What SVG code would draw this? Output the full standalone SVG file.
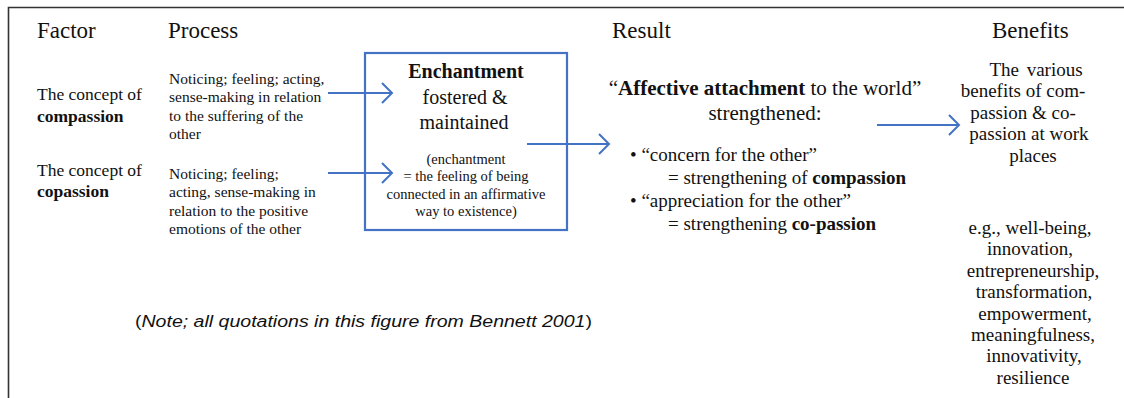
<svg xmlns="http://www.w3.org/2000/svg" width="1124" height="398" viewBox="0 0 1124 398">
<style>
.t text{font-family:"Liberation Serif","Times New Roman",serif;fill:#111}
.h{font-size:23px}
.f{font-size:17.5px}
.p{font-size:15.5px}
.b{font-weight:bold}
.c{text-anchor:middle}
.big{font-size:20px}
.sm{font-size:14.5px}
.r{font-size:21px}
.bl{font-size:19px}
.t text.note{font-family:"Liberation Sans",Arial,sans-serif;font-size:17px}
.conn{stroke:#4472C4;stroke-width:2;fill:none}
</style>
<defs>
<marker id="ah" markerUnits="userSpaceOnUse" markerWidth="14" markerHeight="24" viewBox="0 0 14 24" refX="12" refY="12" orient="auto">
<path d="M2,2 L12,12 L2,22" fill="none" stroke="#4472C4" stroke-width="2"/>
</marker>
</defs>
<rect width="1124" height="398" fill="#fff"/>
<g id="frame" stroke="#333" stroke-width="1.6" fill="none">
<path d="M8.5,398 V7.5 H1124"/>
</g>
<g class="t" font-family="Liberation Serif, Times New Roman, serif">
<g id="headers" class="h">
<text x="37" y="37.5">Factor</text>
<text x="168" y="37.5">Process</text>
<text x="612" y="37.5">Result</text>
<text x="992" y="37.5">Benefits</text>
</g>
<g id="factor1" class="f">
<text x="37" y="99.5">The concept of</text>
<text x="37" y="121.5" class="b">compassion</text>
</g>
<g id="factor2" class="f">
<text x="37" y="175.5">The concept of</text>
<text x="37" y="196.5" class="b">copassion</text>
</g>
<g id="process1" class="p">
<text x="169" y="83.5">Noticing; feeling; acting,</text>
<text x="169" y="102">sense-making in relation</text>
<text x="169" y="120.5">to the suffering of the</text>
<text x="169" y="139">other</text>
</g>
<g id="process2" class="p">
<text x="169" y="178.5">Noticing; feeling;</text>
<text x="169" y="197">acting, sense-making in</text>
<text x="169" y="215.5">relation to the positive</text>
<text x="169" y="234">emotions of the other</text>
</g>
<g id="enchantment">
<rect x="365" y="53" width="202" height="177" fill="none" stroke="#4472C4" stroke-width="2.2"/>
<text x="466" y="77.5" class="big b c">Enchantment</text>
<text x="465" y="104" class="big c">fostered &amp;</text>
<text x="464" y="128.5" class="big c">maintained</text>
<text x="466" y="163.5" class="sm c">(enchantment</text>
<text x="466" y="181" class="sm c">= the feeling of being</text>
<text x="466" y="198.5" class="sm c">connected in an affirmative</text>
<text x="466" y="216" class="sm c">way to existence)</text>
</g>
<g id="result">
<text x="765" y="94.5" class="r c">“<tspan class="b">Affective attachment</tspan> to the world”</text>
<text x="765" y="120" class="r c">strengthened:</text>
<text x="630" y="161" class="bl">• “concern for the other”</text>
<text x="668" y="184" class="bl">= strengthening of <tspan class="b">compassion</tspan></text>
<text x="630" y="207" class="bl">• “appreciation for the other”</text>
<text x="668" y="230" class="bl">= strengthening <tspan class="b">co-passion</tspan></text>
</g>
<g id="benefits" class="bl c">
<text x="1036" y="76" word-spacing="3">The various</text>
<text x="1023" y="97.4">benefits of com-</text>
<text x="1023" y="118.8">passion &amp; co-</text>
<text x="1029" y="140.2">passion at work</text>
<text x="1033" y="161.6">places</text>
<text x="1030" y="234">e.g., well-being,</text>
<text x="1030" y="255.4">innovation,</text>
<text x="1033" y="276.8">entrepreneurship,</text>
<text x="1034" y="298.2">transformation,</text>
<text x="1035" y="319.6">empowerment,</text>
<text x="1033" y="341">meaningfulness,</text>
<text x="1034" y="362.4">innovativity,</text>
<text x="1033" y="383.8">resilience</text>
</g>
<g id="note">
<text class="note" transform="translate(135,327) scale(1.15,1)">(<tspan font-style="italic">Note; all quotations in this figure from Bennett 2001</tspan>)</text>
</g>
</g>
<g id="connectors" class="conn">
<line x1="328" y1="93" x2="392" y2="93" marker-end="url(#ah)"/>
<line x1="328" y1="173" x2="392" y2="173" marker-end="url(#ah)"/>
<line x1="527" y1="144" x2="609" y2="144" marker-end="url(#ah)"/>
<line x1="877" y1="125" x2="959" y2="125" marker-end="url(#ah)"/>
</g>
</svg>
